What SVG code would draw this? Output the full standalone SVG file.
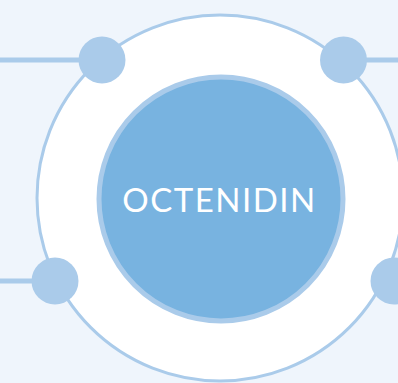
<svg xmlns="http://www.w3.org/2000/svg" width="398" height="383" viewBox="0 0 398 383">
<style>
.conn{stroke:#aacbea;stroke-width:5;fill:none}
.dot{fill:#aacbea}
.lbl{font-family:Lato,"Open Sans",sans-serif;font-size:33px;fill:#ffffff;text-anchor:middle;letter-spacing:1.5px}
</style>
<rect x="0" y="0" width="398" height="383" fill="#eff5fc"/>
<g id="ring">
<circle cx="220" cy="198" r="183" fill="#ffffff" stroke="#aacbea" stroke-width="3"/>
</g>
<g id="connectors">
<line class="conn" x1="0" y1="60" x2="102" y2="60"/>
<line class="conn" x1="343" y1="60" x2="398" y2="60"/>
<line class="conn" x1="0" y1="281" x2="55" y2="281"/>
</g>
<g id="center">
<circle cx="221" cy="199" r="122" fill="#78b3e0" stroke="#aacbea" stroke-width="5"/>
<text class="lbl" x="219.5" y="212">OCTENIDIN</text>
</g>
<g id="dot-tl"><circle class="dot" cx="102" cy="60" r="23.5"/></g>
<g id="dot-tr"><circle class="dot" cx="343.5" cy="60" r="23.5"/></g>
<g id="dot-bl"><circle class="dot" cx="55" cy="281" r="23.5"/></g>
<g id="dot-br"><circle class="dot" cx="394" cy="281" r="23.5"/></g>
</svg>
